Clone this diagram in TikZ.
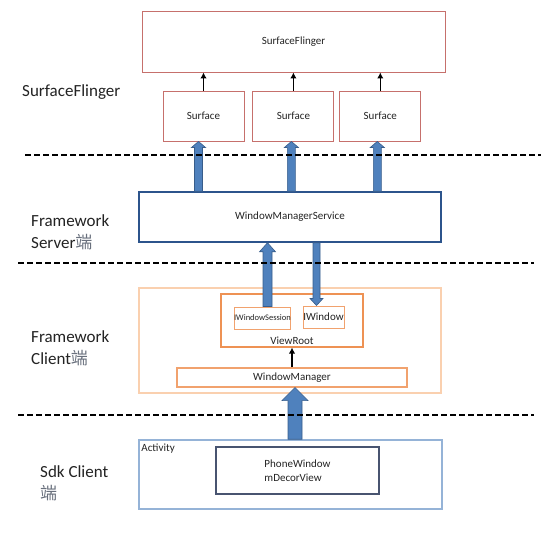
\documentclass[tikz,border=0pt]{standalone}
\usepackage{fontspec}
\setmainfont{Carlito}
\newfontfamily\cjk{Noto Sans CJK SC}
\usetikzlibrary{calc,positioning,arrows.meta}
\definecolor{sfred}{RGB}{198,112,108}
\definecolor{wmsblue}{RGB}{44,84,140}
\definecolor{arrowblue}{RGB}{79,129,189}
\definecolor{arrowedge}{RGB}{56,93,138}
\definecolor{peach}{RGB}{250,208,175}
\definecolor{orng}{RGB}{238,146,84}
\definecolor{actblue}{RGB}{149,179,215}
\definecolor{slate}{RGB}{72,84,112}
\definecolor{txt}{RGB}{35,35,35}
\definecolor{duan}{RGB}{105,112,125}
\tikzstyle{block} = [draw, rectangle, inner sep=0pt, text=txt,
    font=\fontsize{11}{14}\selectfont]
\tikzstyle{sfblock} = [block, draw=sfred, line width=0.9pt]
\tikzstyle{wmsblock} = [block, draw=wmsblue, line width=1.5pt]
\tikzstyle{cblock} = [block, draw=orng, line width=1.1pt]
\tikzstyle{layer} = [font=\fontsize{17}{22}\selectfont, text=txt,
    align=left, anchor=west, inner sep=0pt]
\tikzstyle{divider} = [line width=1.6pt, dash pattern=on 6pt off 3pt]
\tikzstyle{fatarrow} = [fill=arrowblue, draw=arrowedge, line width=0.6pt]
% vertical block arrow: from, to, half shaft, half head, head length
\newcommand{\bigarrow}[5]{%
  \path[fatarrow]
  let
  \p1 = (#1),
  \p2 = (#2),
  \p3 = ($(\p2)!#5!(\p1)$)
  in
  (\x1-#3,\y1) -- (\x1-#3,\y3) -- (\x1-#4,\y3) -- (\x1,\y2)
  -- (\x1+#4,\y3) -- (\x1+#3,\y3) -- (\x1+#3,\y1) -- cycle;}

\begin{document}
\begin{tikzpicture}[x=1pt,y=-1pt,>={Latex[length=6pt,width=6.5pt]}]
\useasboundingbox (0,0) rectangle (558,539);

% SurfaceFlinger
\node (sf) [sfblock,minimum width=303pt,minimum height=61pt] at (293.5,41.5) {SurfaceFlinger};
\node (s1) [sfblock,minimum width=81pt,minimum height=50pt] at (203.5,116) {Surface};
\node (s2) [sfblock,minimum width=81pt,minimum height=50pt,right=8pt of s1] {Surface};
\node (s3) [sfblock,minimum width=81pt,minimum height=50pt,right=5pt of s2] {Surface};
\foreach \s in {s1,s2,s3}
  \draw[->,line width=1.2pt] (\s.north) -- (\s.north |- sf.south);
\node (lsf) [layer] at (22,92) {SurfaceFlinger};

% Framework server
\node (wms) [wmsblock,minimum width=302pt,minimum height=50pt] at (290,217) {WindowManagerService};
\node (lserver) [layer] at (31,232) {Framework\\Server{\cjk\color{duan}端}};

% Framework client
\node (client) [draw=peach,line width=1.3pt,minimum width=302pt,minimum height=105pt,inner sep=0pt] at (290,340.5) {};
\node (vr) [cblock,minimum width=142pt,minimum height=53pt] at (292,320.5) {};
\node (vrtext) [text=txt,font=\fontsize{11}{14}\selectfont,anchor=south,inner sep=2.5pt] at (vr.south) {ViewRoot};
\node (iws) [cblock,draw=orng!85,line width=1pt,minimum width=53pt,minimum height=22pt,
    font=\fontsize{8.5}{10}\selectfont] at (262.5,318) {IWindowSession};
\node (iw) [cblock,draw=orng!85,line width=1pt,minimum width=41pt,minimum height=22pt] at (323.5,317) {IWindow};
\node (wm) [cblock,draw=orng!85,minimum width=230pt,minimum height=19pt] at (292,377.5) {WindowManager};
\draw[->,line width=1.2pt] (wm.north) -- (vr.south);
\node (lclient) [layer] at (31,348) {Framework\\Client{\cjk\color{duan}端}};

% Sdk client
\node (act) [draw=actblue,line width=1.5pt,minimum width=303pt,minimum height=69pt,inner sep=0pt] at (290.5,474.5) {};
\node (acttext) [text=txt,font=\fontsize{11}{14}\selectfont,anchor=north west,inner sep=3pt,yshift=-1.5pt] at (act.north west) {Activity};
\node (pw) [block,draw=slate,line width=1.1pt,minimum width=163pt,minimum height=47pt,align=left] at (297.5,470.5) {PhoneWindow\\mDecorView};
\node (lsdk) [layer] at (40,483) {Sdk Client\\{\cjk\color{duan}端}};

% block arrows
\coordinate (a1) at ([xshift=-5pt]s1.south);
\coordinate (a2) at ([xshift=-2pt]s2.south);
\coordinate (a3) at ([xshift=-3pt]s3.south);
\foreach \a in {a1,a2,a3}
  \bigarrow{\a |- wms.north}{\a}{4pt}{7pt}{6pt}
\coordinate (a4) at ([xshift=5pt]iws.north);
\bigarrow{a4}{a4 |- wms.south}{4.5pt}{8pt}{9pt}
\coordinate (a5) at ([xshift=-7pt]iw.north);
\bigarrow{a5 |- wms.south}{a5}{3.5pt}{6.5pt}{7pt}
\coordinate (a6) at ([xshift=4.5pt]act.north);
\bigarrow{a6}{a6 |- wm.south}{7pt}{13pt}{13pt}

% layer borders
\draw[divider] (25,155) -- (541,155);
\draw[divider] (18,263) -- (534,263);
\draw[divider] (18,415) -- (534,415);

\end{tikzpicture}
\end{document}
